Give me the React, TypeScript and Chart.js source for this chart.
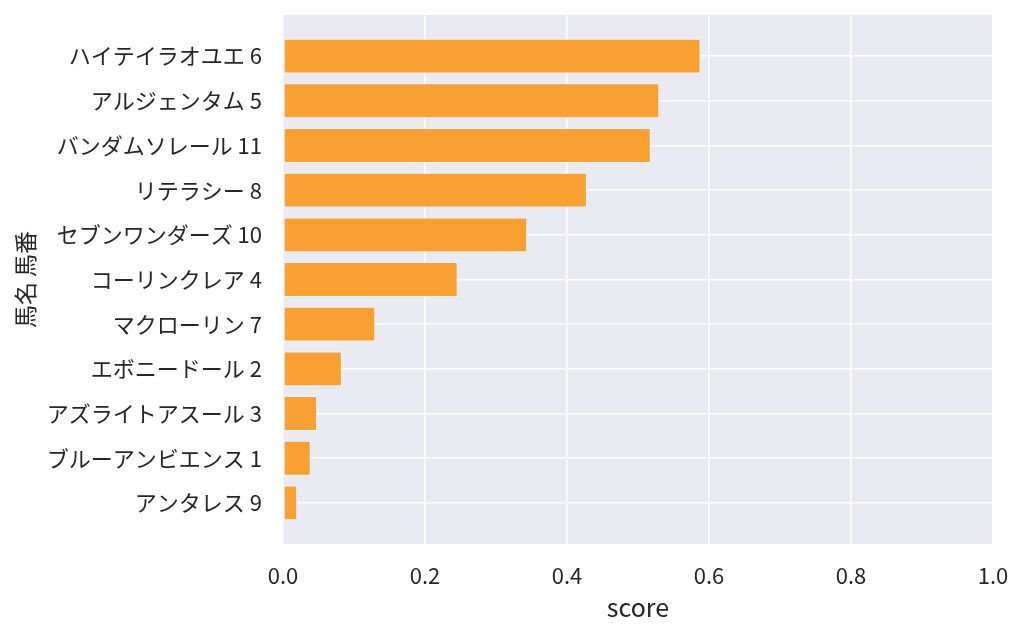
import React, { useEffect, useRef } from 'react';
import { Chart, registerables } from 'chart.js';

Chart.register(...registerables);

// horse name + number, top to bottom
const horseLabels = [
  'ハイテイラオユエ 6',
  'アルジェンタム 5',
  'バンダムソレール 11',
  'リテラシー 8',
  'セブンワンダーズ 10',
  'コーリンクレア 4',
  'マクローリン 7',
  'エボニードール 2',
  'アズライトアスール 3',
  'ブルーアンビエンス 1',
  'アンタレス 9',
];

const scores = [0.588, 0.530, 0.518, 0.428, 0.344, 0.246, 0.130, 0.083, 0.048, 0.039, 0.020];

const xTicks = [0, 0.2, 0.4, 0.6, 0.8, 1.0];

const FONT = '"Noto Sans CJK JP", "Noto Sans", sans-serif';
const TEXT = '#262626';

// seaborn-like grey plot background
const plotBg = {
  id: 'plotBg',
  beforeDraw(chart: Chart) {
    const { ctx, chartArea } = chart;
    ctx.save();
    ctx.fillStyle = '#EAEAF2';
    ctx.fillRect(chartArea.left, chartArea.top, chartArea.right - chartArea.left, chartArea.bottom - chartArea.top);
    ctx.restore();
  },
};

const App: React.FC = () => {
  const canvasRef = useRef<HTMLCanvasElement | null>(null);

  useEffect(() => {
    if (!canvasRef.current) return;

    const chart = new Chart(canvasRef.current, {
      type: 'bar',
      data: {
        datasets: [
          {
            label: 'score',
            data: scores.map((v, i) => ({ x: v, y: i })),
            backgroundColor: 'rgb(249, 160, 51)',
            borderColor: 'rgba(255, 255, 255, 0.6)',
            borderWidth: 1,
            borderSkipped: false,
            barPercentage: 0.78,
            categoryPercentage: 1,
          },
        ],
      },
      options: {
        indexAxis: 'y',
        animation: false,
        responsive: true,
        maintainAspectRatio: false,
        layout: { padding: { top: 15, right: 31, left: 0, bottom: 0 } },
        plugins: {
          legend: { display: false },
          tooltip: { enabled: false },
        },
        scales: {
          x: {
            type: 'linear',
            min: 0,
            max: 1,
            afterBuildTicks: (axis: any) => {
              axis.ticks = xTicks.map((v) => ({ value: v }));
            },
            afterFit: (axis: any) => {
              axis.height = 90;
              axis.paddingLeft = 0;
              axis.paddingRight = 0;
            },
            grid: { color: '#ffffff', lineWidth: 1.5, drawTicks: false },
            border: { display: false },
            ticks: {
              padding: 18,
              color: TEXT,
              font: { family: FONT, size: 22 },
              callback: (v: any) => Number(v).toFixed(1),
            },
            title: {
              display: true,
              text: 'score',
              color: TEXT,
              font: { family: FONT, size: 25 },
              padding: { top: 0, bottom: 12 },
            },
          },
          y: {
            type: 'linear',
            reverse: true,
            offset: false,
            min: -0.92,
            max: 10.92,
            afterBuildTicks: (axis: any) => {
              axis.ticks = horseLabels.map((_, i) => ({ value: i }));
            },
            afterFit: (axis: any) => {
              axis.width = 283;
              axis.paddingTop = 0;
              axis.paddingBottom = 0;
            },
            grid: { color: '#ffffff', lineWidth: 1.5, drawTicks: false, offset: false },
            border: { display: false },
            ticks: {
              padding: 21,
              color: TEXT,
              font: { family: FONT, size: 22 },
              callback: (v: any) => horseLabels[v] ?? '',
            },
            title: {
              display: true,
              text: '馬名 馬番',
              color: TEXT,
              font: { family: FONT, size: 23 },
              padding: { top: 11, bottom: 0 },
            },
          },
        },
      },
      plugins: [plotBg],
    });

    return () => chart.destroy();
  }, []);

  return (
    <div style={{ position: 'fixed', left: 0, top: 0, width: '1024px', height: '634px', background: '#ffffff' }}>
      <canvas ref={canvasRef} />
    </div>
  );
};

export default App;
